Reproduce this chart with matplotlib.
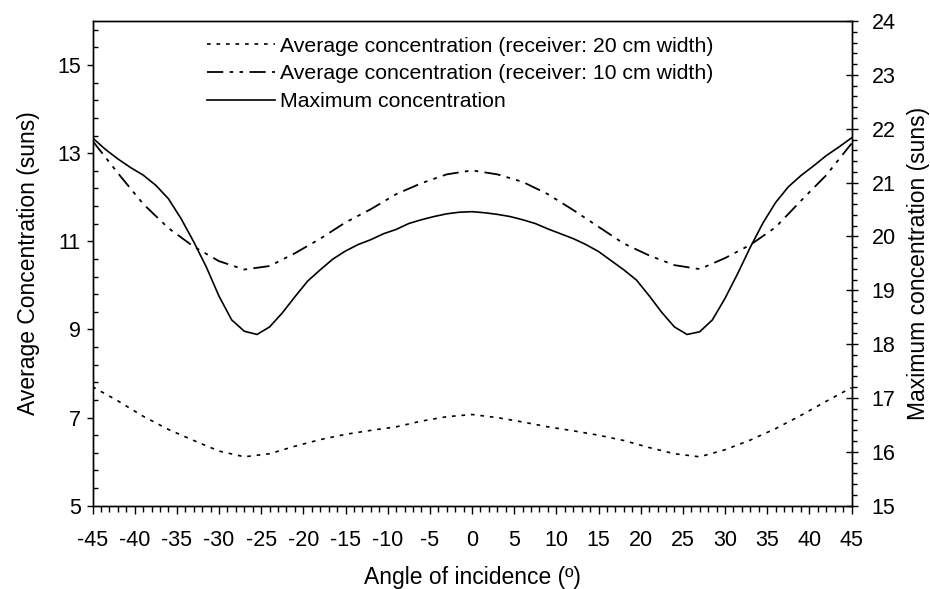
import matplotlib.pyplot as plt
from matplotlib.ticker import MultipleLocator

# Angle of incidence (degrees) for the average curves
angulos = [-45, -42, -39, -36, -33, -30, -27, -24, -21, -18, -15, -12, -9, -6, -3, 0,
           3, 6, 9, 12, 15, 18, 21, 24, 27, 30, 33, 36, 39, 42, 45]

# Average concentration, receiver 20 cm width (left axis)
media_20cm = [7.70, 7.38, 7.03, 6.73, 6.48, 6.24, 6.11, 6.18, 6.35, 6.50, 6.62, 6.71, 6.79, 6.92, 7.02, 7.07,
              7.00, 6.90, 6.79, 6.70, 6.60, 6.48, 6.32, 6.18, 6.11, 6.27, 6.49, 6.75, 7.05, 7.37, 7.68]

# Average concentration, receiver 10 cm width (left axis)
media_10cm = [13.28, 12.55, 11.85, 11.30, 10.88, 10.55, 10.36, 10.44, 10.73, 11.06, 11.43, 11.73, 12.07, 12.32, 12.52, 12.61,
              12.52, 12.35, 12.07, 11.71, 11.33, 10.95, 10.68, 10.46, 10.37, 10.62, 10.92, 11.32, 11.92, 12.50, 13.22]

# Angles for the maximum concentration curve
angulos_max = [-45, -43.5, -42, -40.5, -39, -37.5, -36, -34.5, -33, -31.5, -30, -28.5, -27, -25.5, -24, -22.5,
               -21, -19.5, -18, -16.5, -15, -13.5, -12, -10.5, -9, -7.5, -6, -4.5, -3, -1.5, 0,
               1.5, 3, 4.5, 6, 7.5, 9, 10.5, 12, 13.5, 15, 16.5, 18, 19.5, 21, 22.5,
               24, 25.5, 27, 28.5, 30, 31.5, 33, 34.5, 36, 37.5, 39, 40.5, 42, 43.5, 45]

# Maximum concentration (right axis)
maxima = [21.83, 21.62, 21.44, 21.28, 21.14, 20.95, 20.70, 20.33, 19.90, 19.43, 18.89, 18.45, 18.24, 18.18, 18.32, 18.58,
          18.88, 19.17, 19.38, 19.58, 19.73, 19.85, 19.94, 20.05, 20.13, 20.24, 20.31, 20.37, 20.42, 20.45, 20.46,
          20.44, 20.41, 20.37, 20.31, 20.24, 20.14, 20.05, 19.96, 19.85, 19.72, 19.55, 19.38, 19.19, 18.90, 18.59,
          18.32, 18.18, 18.23, 18.45, 18.85, 19.31, 19.80, 20.25, 20.63, 20.92, 21.13, 21.31, 21.50, 21.66, 21.83]

rotulos = ['Average concentration (receiver: 20 cm width)',
           'Average concentration (receiver: 10 cm width)',
           'Maximum concentration']

plt.rcParams['font.family'] = ['Liberation Sans', 'DejaVu Sans']
plt.rcParams['axes.unicode_minus'] = False

fig = plt.figure(figsize=(9.3, 5.89), dpi=100)
ax = fig.add_axes([0.0995, 0.1414, 0.8161, 0.8229])
ax2 = ax.twinx()

l1, = ax.plot(angulos, media_20cm, color='black', lw=1.2, linestyle=(0, (2.2, 3.5)))
l2, = ax.plot(angulos, media_10cm, color='black', lw=1.3, linestyle=(0, (9, 3.5, 2, 3.5, 2, 3.5)))
l3, = ax2.plot(angulos_max, maxima, color='black', lw=1.2)

ax.set_xlim(-45, 45)
ax.set_ylim(5, 16)
ax2.set_ylim(15, 24)

ax.xaxis.set_major_locator(MultipleLocator(5))
ax.xaxis.set_minor_locator(MultipleLocator(1))
ax.yaxis.set_major_locator(MultipleLocator(2, offset=1))
ax.yaxis.set_minor_locator(MultipleLocator(0.4, offset=0.2))
ax2.yaxis.set_major_locator(MultipleLocator(1))
ax2.yaxis.set_minor_locator(MultipleLocator(0.2))

ax.tick_params(axis='x', which='major', direction='out', length=5.5, width=1, pad=12, top=False, labelsize=15.5)
ax.tick_params(axis='x', which='minor', direction='out', length=4, width=1, top=False)
ax.tick_params(axis='y', which='major', direction='out', length=4.5, width=1, pad=4, labelsize=15.5)
ax.tick_params(axis='y', which='minor', direction='in', length=3.5, width=1)
ax2.tick_params(axis='y', which='major', direction='inout', length=9, width=1, pad=10, labelsize=15.5)
ax2.tick_params(axis='y', which='minor', direction='out', length=3.5, width=1)

for sp in list(ax.spines.values()) + list(ax2.spines.values()):
    sp.set_linewidth(1)

ax.set_xlabel('Angle of incidence (º)', fontsize=16.5, labelpad=11)
ax.set_ylabel('Average Concentration (suns)', fontsize=16.5, labelpad=12)
ax2.set_ylabel('Maximum concentration (suns)', fontsize=16.5, labelpad=8)

ax.legend([l1, l2, l3], rotulos, loc='upper left', bbox_to_anchor=(0.1509, 0.968),
          frameon=False, fontsize=15.3, handlelength=3.2, handletextpad=0.24, labelspacing=0.42,
          borderaxespad=0, borderpad=0)

fig.savefig('out.png', dpi=100)
